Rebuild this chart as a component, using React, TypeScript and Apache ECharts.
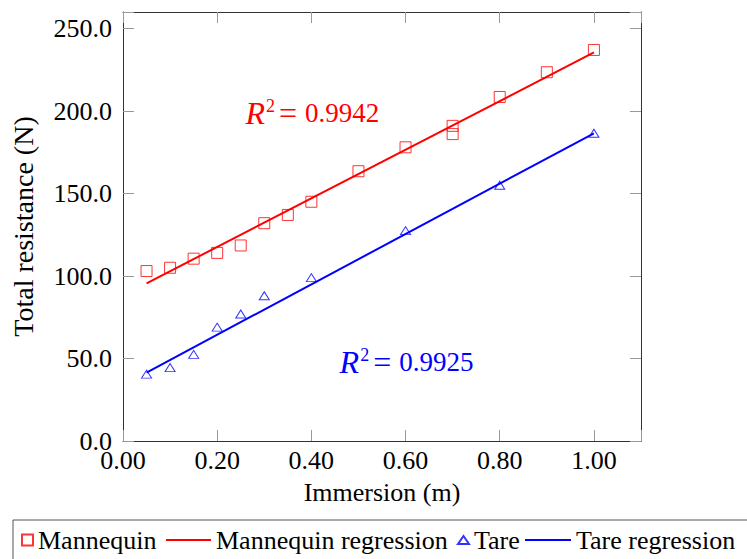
import React, { useEffect, useRef } from 'react';
import * as echarts from 'echarts';

// ---- data ----
const mannequinX = [0.05, 0.1, 0.15, 0.2, 0.25, 0.3, 0.35, 0.4, 0.5, 0.6, 0.7, 0.7, 0.8, 0.9, 1.0];
const mannequinY = [103, 105, 110.5, 114, 118.5, 132, 137, 145, 163.5, 178, 191, 186, 208.5, 223.5, 237];
const tareX = [0.05, 0.1, 0.15, 0.2, 0.25, 0.3, 0.4, 0.6, 0.8, 1.0];
const tareY = [40.5, 44.5, 52.5, 69, 77, 88, 99, 127.5, 155, 186.5];
const mannequinRegX = [0.05, 1.0];
const mannequinRegY = [95.5, 235.5];
const tareRegX = [0.05, 1.0];
const tareRegY = [41.5, 186.5];
const seriesNames = ['Mannequin', 'Mannequin regression', 'Tare', 'Tare regression'];
const r2Values = ['0.9942', '0.9925'];
const r2Anchors = [[0.4, 199], [0.6, 48]];
const xTitle = 'Immersion (m)';
const yTitle = 'Total resistance (N)';

const FONT = 'Liberation Serif';
const RED = '#ff0000';
const BLUE = '#0000ff';

const pairs = (xs: number[], ys: number[]) => xs.map((x, i) => [x, ys[i]]);

const r2Label = (value: string, color: string) => ({
  show: true,
  position: 'inside',
  formatter: `{r|R}{s|2}{e|=}{n|${value}}`,
  rich: {
    r: { fontFamily: FONT, fontStyle: 'italic', fontSize: 32, color, padding: [0, 1, 0, 2] },
    s: { fontFamily: FONT, fontSize: 18, color, verticalAlign: 'top', lineHeight: 18 },
    e: { fontFamily: FONT, fontSize: 32, color, padding: [0, 8, 0, 4] },
    n: { fontFamily: FONT, fontSize: 27, color },
  },
});

const isMultiple = (v: number, step: number) => Math.abs(v / step - Math.round(v / step)) < 1e-6;

export default function App() {
  const ref = useRef<HTMLDivElement>(null);
  useEffect(() => {
    if (!ref.current) return;
    const chart = echarts.init(ref.current, null, { renderer: 'svg' });
    const tick = { show: true, inside: true, length: 11, lineStyle: { color: '#999', width: 1 } };
    const line = { show: true, onZero: false, lineStyle: { color: '#333', width: 1 } };
    const labelFont = { fontFamily: FONT, fontSize: 26, color: '#000' };
    const legendBase = {
      top: 527,
      padding: 0,
      textStyle: { fontFamily: FONT, fontSize: 26, color: '#000' },
      selectedMode: false,
      symbolKeepAspect: false,
    };
    chart.setOption({
      animation: false,
      backgroundColor: '#fff',
      grid: { left: 123, right: 106, top: 12, bottom: 118, outerBoundsMode: 'none', containLabel: false },
      xAxis: [
        {
          type: 'value', position: 'bottom', min: 0, max: 1.1, interval: 0.2,
          axisLine: line, axisTick: tick, splitLine: { show: false },
          axisLabel: { ...labelFont, margin: 6, formatter: (v: number) => (isMultiple(v, 0.2) ? v.toFixed(2) : '') },
          name: xTitle, nameLocation: 'middle', nameGap: 38,
          nameTextStyle: { fontFamily: FONT, fontSize: 26, color: '#000' },
        },
        {
          type: 'value', position: 'top', min: 0, max: 1.1, interval: 0.2,
          axisLine: line, axisTick: tick, splitLine: { show: false }, axisLabel: { show: false },
        },
      ],
      yAxis: [
        {
          type: 'value', position: 'left', min: 0, max: 260, interval: 50,
          axisLine: line, axisTick: tick, splitLine: { show: false },
          axisLabel: { ...labelFont, margin: 11, formatter: (v: number) => (isMultiple(v, 50) ? v.toFixed(1) : '') },
          name: yTitle, nameLocation: 'middle', nameGap: 86,
          nameTextStyle: { fontFamily: FONT, fontSize: 28, color: '#000' },
        },
        {
          type: 'value', position: 'right', min: 0, max: 260, interval: 50,
          axisLine: line, axisTick: tick, splitLine: { show: false }, axisLabel: { show: false },
        },
      ],
      legend: [
        { ...legendBase, left: 21, itemWidth: 11, itemHeight: 11, data: [{ name: seriesNames[0], icon: 'rect' }] },
        { ...legendBase, left: 166, itemWidth: 45, itemHeight: 2, data: [{ name: seriesNames[1], icon: 'rect' }] },
        { ...legendBase, left: 457, itemWidth: 11, itemHeight: 8, data: [{ name: seriesNames[2], icon: 'triangle' }] },
        { ...legendBase, left: 525, itemWidth: 46, itemHeight: 2, data: [{ name: seriesNames[3], icon: 'rect' }] },
      ],
      graphic: [
        {
          type: 'rect', silent: true,
          shape: { x: 13, y: 520, width: 745, height: 60 },
          style: { fill: 'none', stroke: '#555', lineWidth: 1 },
        },
      ],
      series: [
        {
          name: seriesNames[1], type: 'line', data: pairs(mannequinRegX, mannequinRegY),
          symbol: 'none', lineStyle: { color: RED, width: 2 }, itemStyle: { color: RED }, z: 2,
          markPoint: {
            symbol: 'circle', symbolSize: 0, silent: true,
            label: r2Label(r2Values[0], RED),
            data: [{ coord: r2Anchors[0], value: r2Values[0] }],
          },
        },
        {
          name: seriesNames[3], type: 'line', data: pairs(tareRegX, tareRegY),
          symbol: 'none', lineStyle: { color: BLUE, width: 2 }, itemStyle: { color: BLUE }, z: 2,
          markPoint: {
            symbol: 'circle', symbolSize: 0, silent: true,
            label: r2Label(r2Values[1], BLUE),
            data: [{ coord: r2Anchors[1], value: r2Values[1] }],
          },
        },
        {
          name: seriesNames[0], type: 'scatter', data: pairs(mannequinX, mannequinY),
          symbol: 'rect', symbolSize: 11, z: 3,
          itemStyle: { color: 'rgba(255,255,255,0)', borderColor: RED, borderWidth: 1 },
        },
        {
          name: seriesNames[2], type: 'scatter', data: pairs(tareX, tareY),
          symbol: 'triangle', symbolSize: [10, 8], z: 3,
          itemStyle: { color: 'rgba(255,255,255,0)', borderColor: BLUE, borderWidth: 1 },
        },
      ],
    });
    return () => chart.dispose();
  }, []);
  return <div ref={ref} style={{ position: 'fixed', left: 0, top: 0, width: 747, height: 559 }} />;
}
